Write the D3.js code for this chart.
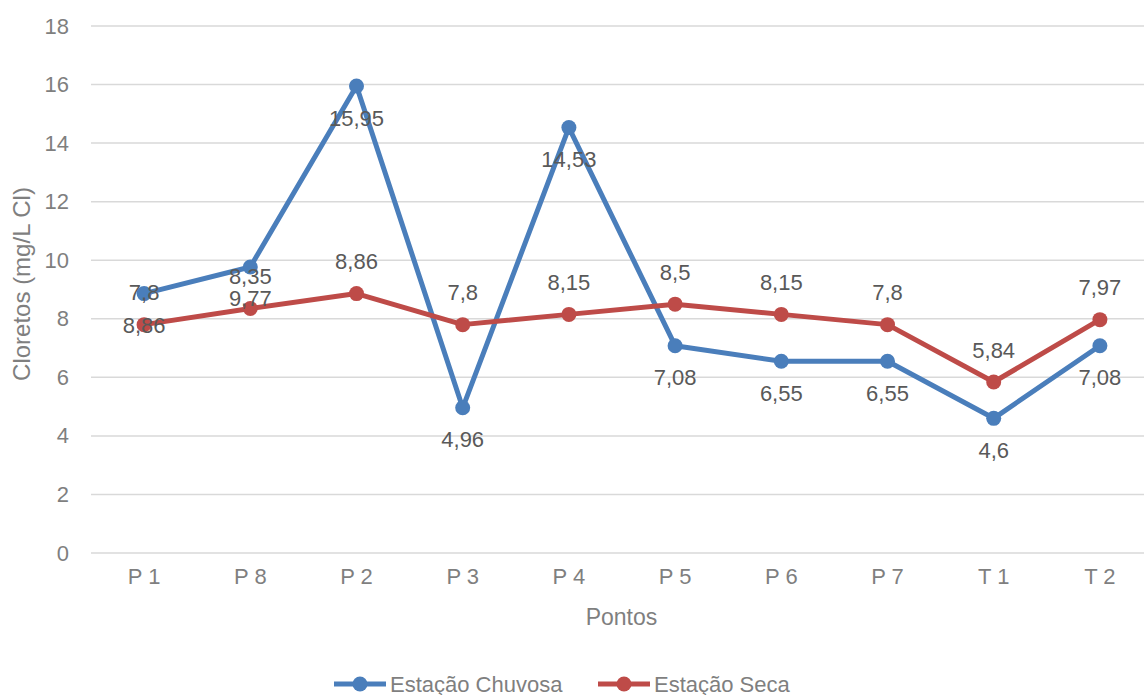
<!DOCTYPE html>
<html>
<head>
<meta charset="utf-8">
<script src="https://cdn.jsdelivr.net/npm/d3@7"></script>
<style>
  html, body { margin: 0; padding: 0; background: #fff; }
  svg { display: block; font-family: "Liberation Sans", Arial, sans-serif; }
</style>
</head>
<body>
<svg id="chart" width="1144" height="695"></svg>
<script>
// Pontos de coleta
const pontos = ["P 1", "P 8", "P 2", "P 3", "P 4", "P 5", "P 6", "P 7", "T 1", "T 2"];
// Cloretos (mg/L Cl) por estação
const chuvosa = [8.86, 9.77, 15.95, 4.96, 14.53, 7.08, 6.55, 6.55, 4.6, 7.08];
const seca = [7.8, 8.35, 8.86, 7.8, 8.15, 8.5, 8.15, 7.8, 5.84, 7.97];
const yTicks = [0, 2, 4, 6, 8, 10, 12, 14, 16, 18];

const series = [
  { name: "Estação Chuvosa", values: chuvosa, color: "#4a7ebb", labelDy: 32 },
  { name: "Estação Seca", values: seca, color: "#be4b48", labelDy: -32 }
];

const svg = d3.select("#chart");
const plotLeft = 91, plotRight = 1153, plotTop = 26, plotBottom = 553;

const x = d3.scaleBand().domain(pontos).range([plotLeft, plotRight]);
const y = d3.scaleLinear().domain([0, 18]).range([plotBottom, plotTop]);
const cx = d => x(d) + x.bandwidth() / 2;
const fmt = v => String(v).replace(".", ",");

// Linhas de grade horizontais
svg.append("g")
  .selectAll("line")
  .data(yTicks)
  .join("line")
  .attr("x1", plotLeft).attr("x2", plotRight)
  .attr("y1", d => y(d)).attr("y2", d => y(d))
  .attr("stroke", "#d9d9d9").attr("stroke-width", 1.5);

// Eixo Y
const yAxis = svg.append("g")
  .attr("transform", `translate(${plotLeft},0)`)
  .call(d3.axisLeft(y).tickValues(yTicks).tickSize(0).tickPadding(22).tickFormat(d => d));
yAxis.select(".domain").remove();
yAxis.selectAll("text").attr("font-size", 22).attr("fill", "#7f7f7f").attr("font-family", "Liberation Sans, Arial, sans-serif");

// Eixo X
const xAxis = svg.append("g")
  .attr("transform", `translate(0,${plotBottom})`)
  .call(d3.axisBottom(x).tickSize(0).tickPadding(15));
xAxis.select(".domain").remove();
xAxis.selectAll("text").attr("font-size", 22).attr("fill", "#7f7f7f").attr("font-family", "Liberation Sans, Arial, sans-serif");

// Títulos dos eixos
svg.append("text")
  .attr("x", (plotLeft + 1144) / 2 + 4).attr("y", 617)
  .attr("text-anchor", "middle").attr("dominant-baseline", "central")
  .attr("font-size", 23).attr("fill", "#7f7f7f")
  .text("Pontos");

svg.append("text")
  .attr("transform", `translate(21,284) rotate(-90)`)
  .attr("text-anchor", "middle").attr("dominant-baseline", "central")
  .attr("font-size", 24).attr("fill", "#7f7f7f")
  .text("Cloretos (mg/L Cl)");

// Séries
const line = d3.line().x((d, i) => cx(pontos[i])).y(d => y(d));

series.forEach(s => {
  const g = svg.append("g");
  g.append("path")
    .datum(s.values)
    .attr("d", line)
    .attr("fill", "none")
    .attr("stroke", s.color)
    .attr("stroke-width", 5)
    .attr("stroke-linejoin", "round")
    .attr("stroke-linecap", "round");
  g.selectAll("circle")
    .data(s.values)
    .join("circle")
    .attr("cx", (d, i) => cx(pontos[i]))
    .attr("cy", d => y(d))
    .attr("r", 7.5)
    .attr("fill", s.color);
});

// Rótulos de dados
series.forEach(s => {
  svg.append("g")
    .selectAll("text")
    .data(s.values)
    .join("text")
    .attr("x", (d, i) => cx(pontos[i]))
    .attr("y", d => y(d) + s.labelDy)
    .attr("text-anchor", "middle")
    .attr("dominant-baseline", "central")
    .attr("font-size", 22)
    .attr("fill", "#595959")
    .text(d => fmt(d));
});

// Legenda
const legendY = 684;
const legendItems = [
  { s: series[0], x0: 334 },
  { s: series[1], x0: 598 }
];
legendItems.forEach(({ s, x0 }) => {
  const g = svg.append("g");
  g.append("line")
    .attr("x1", x0).attr("x2", x0 + 52)
    .attr("y1", legendY).attr("y2", legendY)
    .attr("stroke", s.color).attr("stroke-width", 5);
  g.append("circle")
    .attr("cx", x0 + 26).attr("cy", legendY).attr("r", 7.5)
    .attr("fill", s.color);
  g.append("text")
    .attr("x", x0 + 56).attr("y", legendY)
    .attr("dominant-baseline", "central")
    .attr("font-size", 22).attr("fill", "#7f7f7f")
    .text(s.name);
});
</script>
</body>
</html>
